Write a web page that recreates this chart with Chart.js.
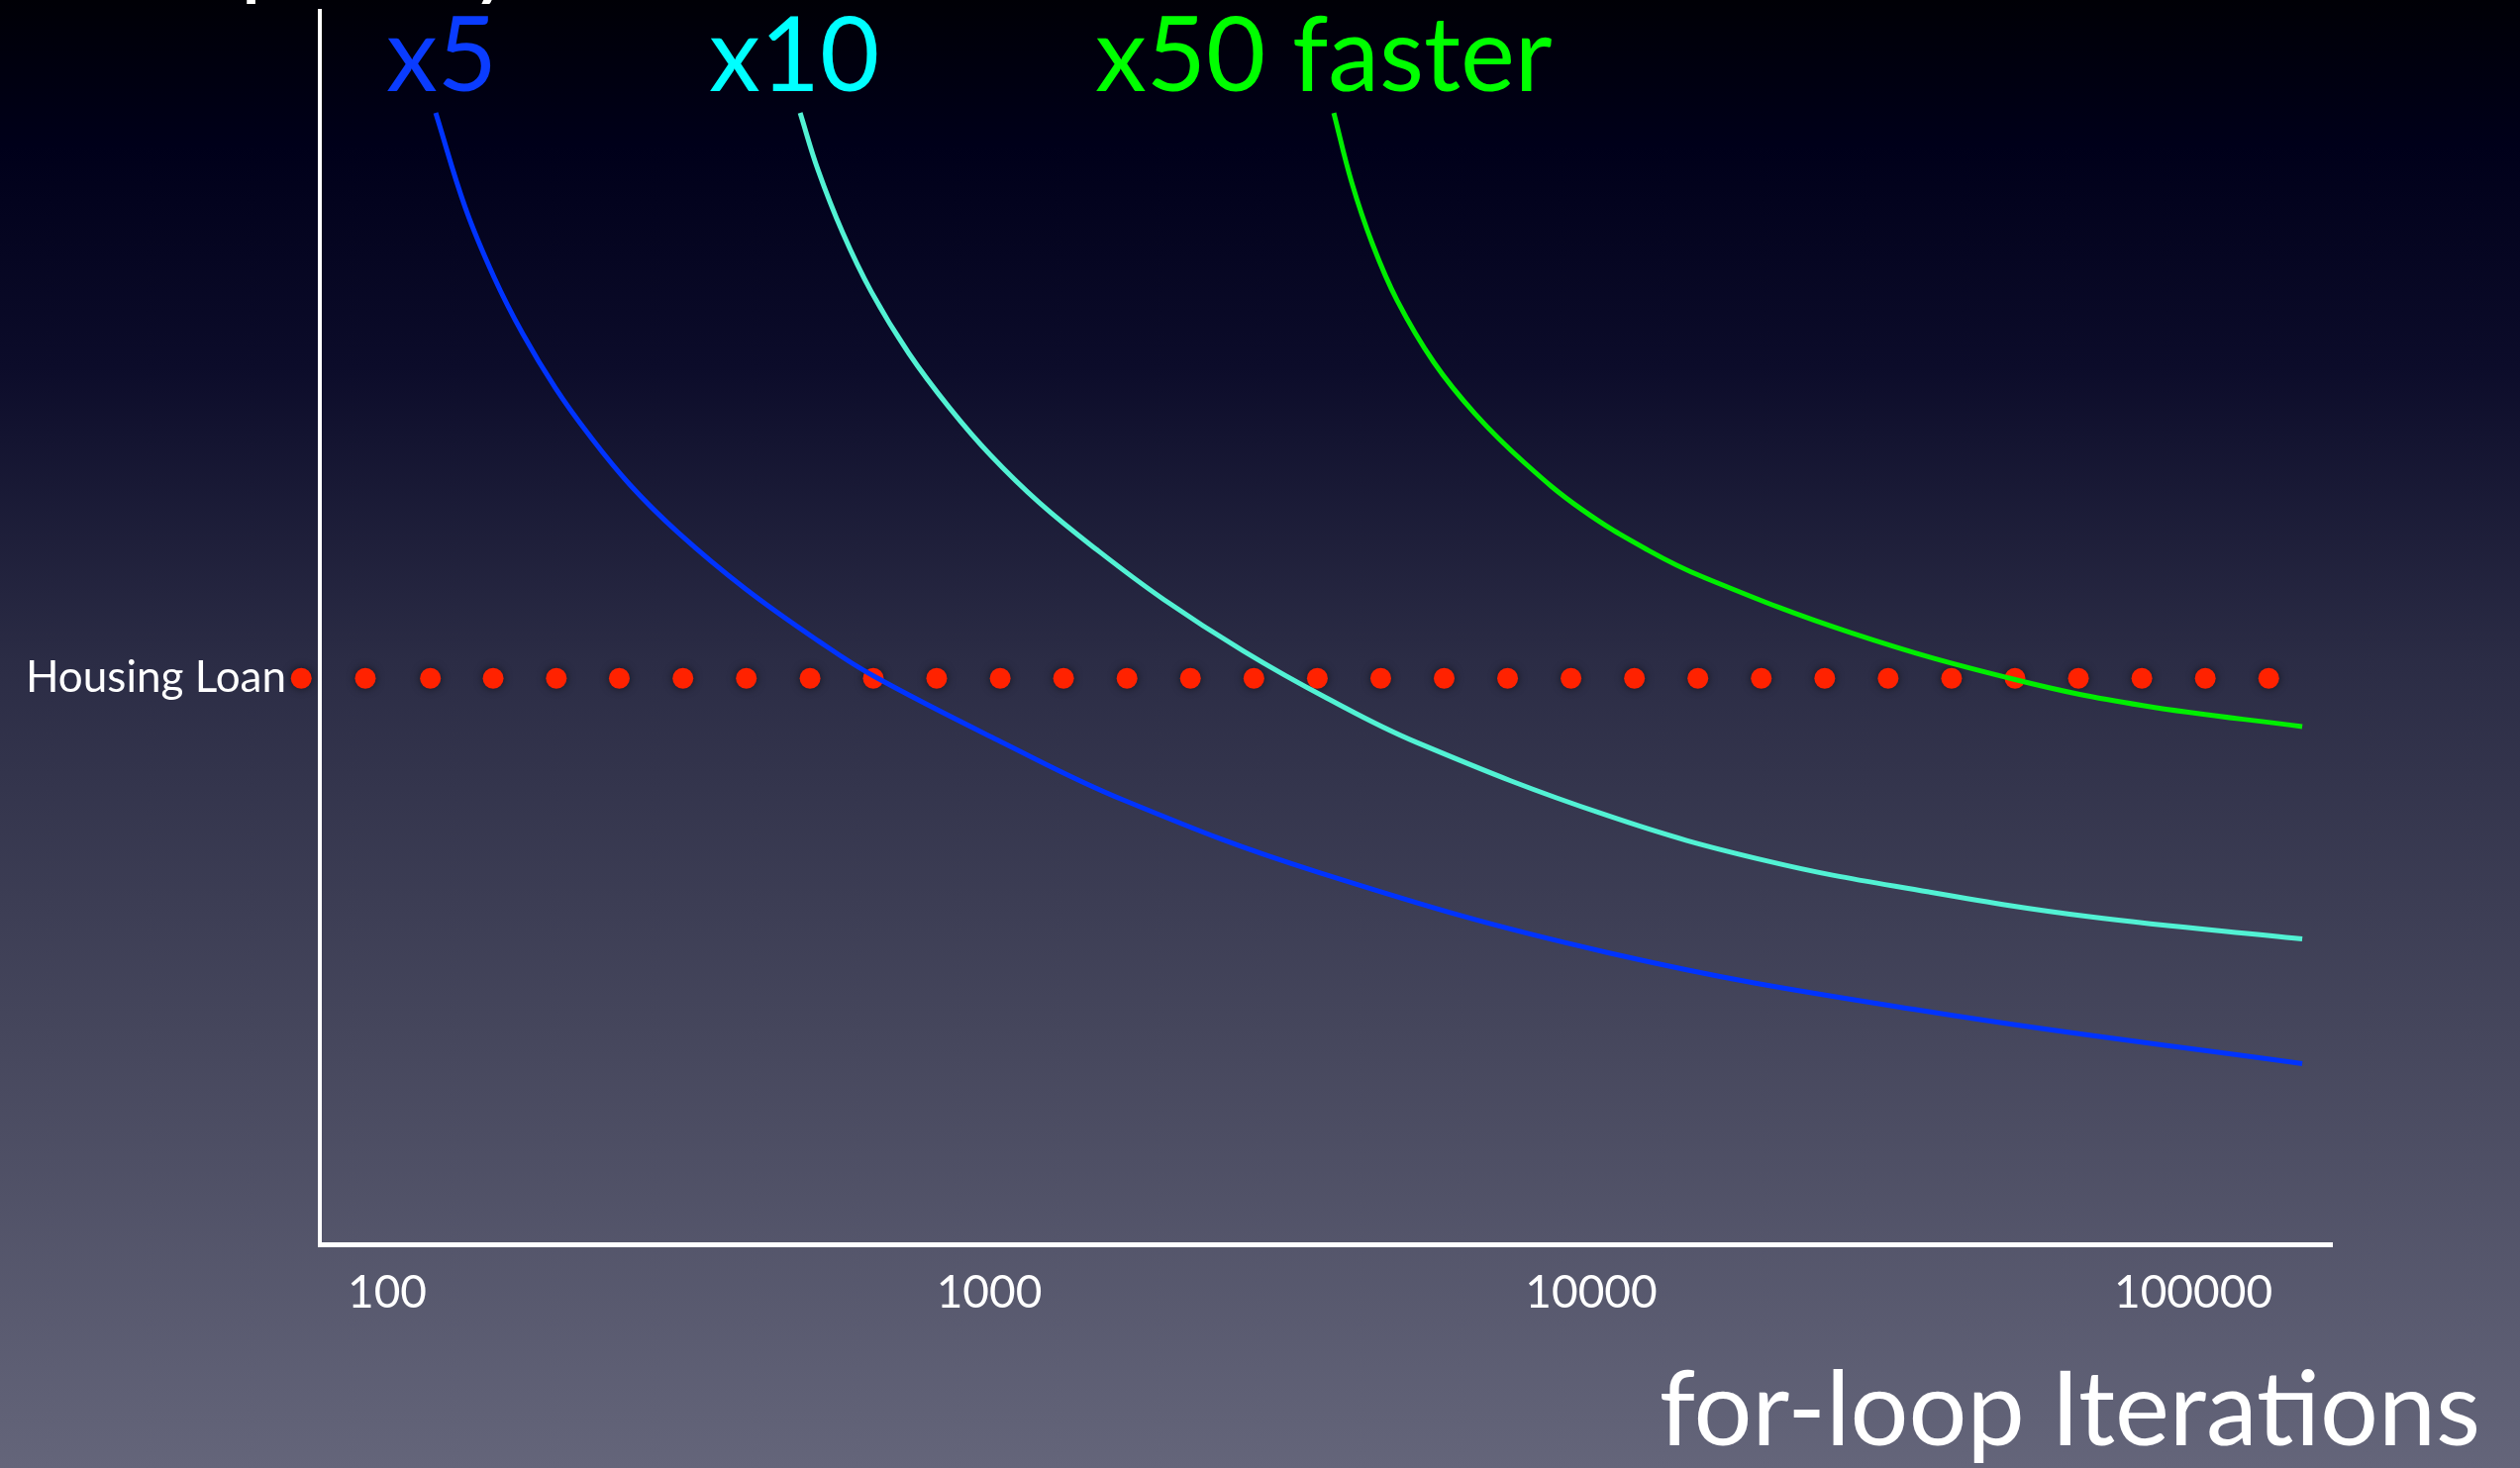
<!DOCTYPE html>
<html>
<head>
<meta charset="utf-8">
<title>for-loop Iterations</title>
<script src="https://cdn.jsdelivr.net/npm/chart.js@4.4.1/dist/chart.umd.min.js"></script>
<style>
  html, body { margin: 0; padding: 0; }
  body {
    width: 2545px; height: 1483px; overflow: hidden;
    background: linear-gradient(to bottom,
      #000006 0%, #00001a 10%, #0c0c2a 25%, #2b2c45 45%, #45465c 70%, #64657a 100%);
  }
  canvas { display: block; }
</style>
</head>
<body>
<canvas id="chart" width="2545" height="1483"></canvas>
<script>
// Iteration counts (log axis) and cost levels for each speed-up curve
const x5Iter  = [120.4, 134.9, 150.5, 168, 190.4, 215.8, 252.9, 304.5, 392.5, 521.4, 642, 1043, 1680, 3516, 10624, 36380, 151700];
const x5Cost  = [91.7, 84.0, 78.4, 73.8, 69.4, 65.7, 61.6, 57.7, 53.2, 48.9, 46.1, 40.8, 36.0, 30.2, 23.7, 18.9, 14.7];

const x10Iter = [485.3, 519.4, 571, 637.3, 736, 859.6, 1004, 1213, 1511, 1948, 2647, 3638, 5135, 10624, 19630, 36380, 67200, 151700];
const x10Cost = [91.7, 87.1, 82.0, 77.2, 72.2, 67.8, 64.0, 60.1, 56.3, 52.3, 48.1, 44.3, 40.7, 34.8, 31.1, 28.6, 26.6, 24.8];

const x50Iter = [3736, 3999, 4330, 4761, 5477, 6420, 7731, 9630, 12410, 15350, 26970, 50570, 82440, 151700];
const x50Cost = [91.7, 86.1, 81.1, 76.5, 71.5, 67.3, 63.4, 59.6, 56.3, 54.1, 49.6, 45.8, 43.7, 42.0];

// Housing loan reference level, marked along the whole range
const loanLevel = 45.9;
const loanIter = [72, 92, 118, 150, 191, 243, 310, 395, 504, 642, 818, 1043, 1329, 1694, 2159, 2752,
                  3508, 4471, 5698, 7262, 9256, 11797, 15036, 19163, 24425, 31130, 39676, 50568,
                  64451, 82146, 104699, 133441];

const xTicks = [100, 1000, 10000, 100000];
const seriesLabels = ['x5', 'x10', 'x50 faster'];

const toPoints = (xs, ys) => xs.map((x, i) => ({ x: x, y: ys[i] }));

const FONT = 'Lato, "Open Sans", "DejaVu Sans", sans-serif';

const curveStyle = {
  showLine: true,
  pointRadius: 0,
  borderWidth: 5,
  tension: 0.4,
  fill: false
};

// Loan markers: drawn with a soft dark halo, including the one left of the axis
const loanMarkers = {
  id: 'loanMarkers',
  beforeDatasetDraw(chart, args) {
    if (args.index !== 3) return;
    const ctx = chart.ctx;
    const full = { left: 0, top: 0, right: chart.width, bottom: chart.height };
    ctx.save();
    ctx.shadowColor = 'rgba(0,0,0,0.55)';
    ctx.shadowBlur = 8;
    args.meta.data.forEach(el => el.draw(ctx, full));
    ctx.restore();
    return false;
  }
};

// Curve captions, the loan caption and the axis caption
const captions = {
  id: 'captions',
  afterDraw(chart) {
    const ctx = chart.ctx;
    const area = chart.chartArea;
    const y = chart.scales.y;
    ctx.save();
    ctx.textBaseline = 'alphabetic';

    // title running off the top edge
    ctx.fillStyle = '#ffffff';
    ctx.textAlign = 'left';
    ctx.font = '96px ' + FONT;
    ctx.fillText('Complexity', 46, -13);

    ctx.font = '104px ' + FONT;
    ctx.fillStyle = '#0a3cff';
    ctx.fillText(seriesLabels[0], 390, 92);
    ctx.fillStyle = '#00ffff';
    ctx.fillText(seriesLabels[1], 716, 92);
    ctx.fillStyle = '#00ff00';
    ctx.fillText(seriesLabels[2], 1106, 92);

    ctx.fillStyle = '#ffffff';
    ctx.font = '44px ' + FONT;
    ctx.textAlign = 'right';
    ctx.textBaseline = 'middle';
    ctx.fillText('Housing Loan', area.left - 34, y.getPixelForValue(loanLevel));

    ctx.font = '104px ' + FONT;
    ctx.textBaseline = 'alphabetic';
    ctx.fillText('for-loop Iterations', 2505, 1460);
    ctx.restore();
  }
};

new Chart(document.getElementById('chart'), {
  type: 'scatter',
  data: {
    datasets: [
      Object.assign({ label: seriesLabels[0], data: toPoints(x5Iter, x5Cost), borderColor: '#0033ff' }, curveStyle),
      Object.assign({ label: seriesLabels[1], data: toPoints(x10Iter, x10Cost), borderColor: '#52f2d4' }, curveStyle),
      Object.assign({ label: seriesLabels[2], data: toPoints(x50Iter, x50Cost), borderColor: '#00ee00' }, curveStyle),
      {
        label: 'Housing Loan',
        data: loanIter.map(x => ({ x: x, y: loanLevel })),
        showLine: false,
        pointRadius: 10.5,
        pointBorderWidth: 0,
        pointBackgroundColor: '#ff2200',
        pointBorderColor: '#ff2200',
        clip: false
      }
    ]
  },
  options: {
    responsive: false,
    animation: false,
    events: [],
    layout: { padding: { left: 323, top: 10, right: 190, bottom: 128 } },
    plugins: {
      legend: { display: false },
      tooltip: { enabled: false },
      title: { display: false }
    },
    scales: {
      x: {
        type: 'logarithmic',
        min: 77.3,
        max: 169900,
        afterBuildTicks(scale) { scale.ticks = xTicks.map(v => ({ value: v })); },
        grid: { display: false, drawTicks: false },
        border: { display: true, color: '#ffffff', width: 5 },
        ticks: {
          color: '#ffffff',
          padding: 21,
          font: { family: FONT, size: 46, lineHeight: 1.2 },
          callback: (v) => String(v),
          maxRotation: 0,
          autoSkip: false
        }
      },
      y: {
        type: 'linear',
        min: 0,
        max: 100,
        grid: { display: false, drawTicks: false },
        border: { display: true, color: '#ffffff', width: 4 },
        ticks: { display: false }
      }
    }
  },
  plugins: [loanMarkers, captions]
});
</script>
</body>
</html>
